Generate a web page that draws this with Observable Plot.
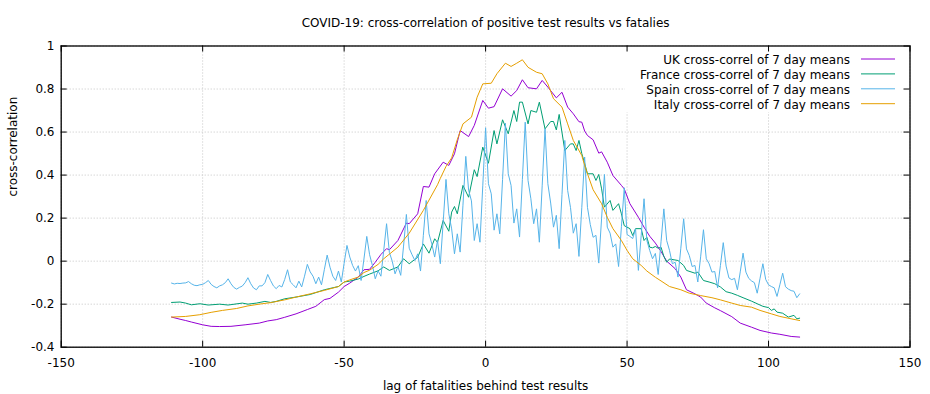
<!DOCTYPE html>
<html>
<head>
<meta charset="utf-8">
<script src="https://cdn.jsdelivr.net/npm/d3@7"></script>
<script src="https://cdn.jsdelivr.net/npm/@observablehq/plot@0.6"></script>
<style>
  html, body { margin: 0; padding: 0; background: #fff; }
  #chart { width: 930px; height: 394px; }
</style>
</head>
<body>
<div id="chart"></div>
<script>
const titleText = "COVID-19: cross-correlation of positive test results vs fatalies";
const xLabel = "lag of fatalities behind test results";
const yLabel = "cross-correlation";
const xTicks = [-150, -100, -50, 0, 50, 100, 150];
const yTicks = [-0.4, -0.2, 0, 0.2, 0.4, 0.6, 0.8, 1];
const seriesNames = ["UK cross-correl of 7 day means", "France cross-correl of 7 day means", "Spain cross-correl of 7 day means", "Italy cross-correl of 7 day means"];
const seriesColors = ["#9400d3", "#009e73", "#56b4e9", "#e69f00"];

const uk = [[-111,-0.260],[-108,-0.270],[-106,-0.276],[-104,-0.283],[-100,-0.296],[-97,-0.303],[-94,-0.304],[-90,-0.303],[-85,-0.296],[-80,-0.288],[-77,-0.278],[-74,-0.272],[-71,-0.261],[-67,-0.245],[-63,-0.225],[-60,-0.210],[-57,-0.179],[-55,-0.173],[-52,-0.144],[-50,-0.118],[-48,-0.102],[-45,-0.074],[-43,-0.040],[-41,-0.038],[-39,-0.005],[-37,0.031],[-35,0.058],[-34,0.053],[-31,0.096],[-28,0.177],[-27,0.174],[-24,0.220],[-22,0.347],[-20,0.344],[-18,0.406],[-15,0.460],[-13,0.445],[-11,0.499],[-9,0.607],[-6,0.579],[-4,0.631],[-1,0.747],[1,0.711],[3,0.718],[6,0.801],[9,0.767],[11,0.793],[13,0.843],[15,0.806],[18,0.801],[20,0.840],[22,0.809],[25,0.759],[27,0.785],[29,0.716],[31,0.685],[33,0.648],[34,0.646],[35,0.605],[36,0.584],[38,0.564],[40,0.502],[41,0.508],[43,0.460],[45,0.398],[48,0.352],[49,0.336],[51,0.267],[54,0.204],[56,0.158],[58,0.116],[60,0.084],[62,0.045],[64,0.000],[67,-0.035],[69,-0.074],[71,-0.133],[74,-0.152],[76,-0.167],[78,-0.195],[81,-0.217],[83,-0.230],[87,-0.258],[90,-0.288],[94,-0.307],[97,-0.322],[101,-0.334],[104,-0.340],[108,-0.350],[111,-0.353]];

const france = [[-111,-0.192],[-108,-0.190],[-106,-0.195],[-104,-0.203],[-101,-0.198],[-98,-0.204],[-94,-0.200],[-91,-0.204],[-86,-0.195],[-84,-0.200],[-81,-0.195],[-78,-0.187],[-76,-0.192],[-74,-0.187],[-71,-0.175],[-67,-0.167],[-62,-0.155],[-57,-0.133],[-52,-0.118],[-50,-0.097],[-48,-0.093],[-45,-0.083],[-43,-0.071],[-41,-0.060],[-38,-0.045],[-36,-0.027],[-34,-0.043],[-31,-0.027],[-29,0.011],[-27,-0.012],[-24,0.018],[-22,0.080],[-20,0.037],[-18,0.104],[-17,0.087],[-15,0.189],[-13,0.139],[-12,0.228],[-11,0.254],[-10,0.220],[-8,0.352],[-6,0.297],[-4,0.425],[-3,0.393],[-1,0.530],[1,0.455],[3,0.607],[4,0.545],[6,0.657],[8,0.592],[10,0.700],[11,0.649],[12,0.739],[13,0.739],[15,0.638],[16,0.700],[18,0.692],[19,0.739],[21,0.615],[23,0.649],[24,0.649],[25,0.610],[26,0.682],[28,0.514],[30,0.545],[31,0.545],[32,0.514],[33,0.561],[34,0.500],[35,0.455],[36,0.406],[38,0.406],[39,0.375],[40,0.403],[41,0.336],[42,0.251],[44,0.282],[45,0.236],[47,0.267],[48,0.220],[49,0.165],[51,0.151],[52,0.119],[53,0.151],[55,0.151],[56,0.096],[57,0.111],[58,0.065],[59,0.062],[60,0.068],[61,0.060],[62,0.065],[63,0.022],[64,-0.005],[65,0.010],[68,0.003],[70,-0.020],[71,-0.043],[74,-0.056],[75,-0.051],[77,-0.090],[79,-0.097],[81,-0.105],[83,-0.120],[85,-0.142],[87,-0.149],[89,-0.159],[91,-0.170],[94,-0.186],[96,-0.198],[98,-0.210],[100,-0.216],[101,-0.229],[102,-0.222],[103,-0.237],[105,-0.242],[107,-0.260],[109,-0.252],[110,-0.268],[111,-0.265]];

const spain = [[-111,-0.102],[-110,-0.106],[-109,-0.103],[-108,-0.104],[-107,-0.102],[-106,-0.101],[-105,-0.095],[-104,-0.105],[-103,-0.112],[-102,-0.114],[-101,-0.110],[-100,-0.108],[-99,-0.100],[-98,-0.090],[-97,-0.108],[-96,-0.118],[-95,-0.124],[-94,-0.115],[-93,-0.110],[-92,-0.100],[-91,-0.082],[-90,-0.105],[-89,-0.122],[-88,-0.130],[-87,-0.122],[-86,-0.116],[-85,-0.100],[-84,-0.077],[-83,-0.105],[-82,-0.125],[-81,-0.133],[-80,-0.115],[-79,-0.115],[-78,-0.100],[-77,-0.062],[-76,-0.090],[-75,-0.115],[-74,-0.128],[-73,-0.113],[-72,-0.120],[-71,-0.085],[-70,-0.040],[-69,-0.097],[-68,-0.110],[-67,-0.124],[-66,-0.093],[-65,-0.120],[-64,-0.070],[-63,-0.015],[-62,-0.050],[-61,-0.070],[-60,-0.105],[-59,-0.074],[-58,-0.110],[-57,-0.040],[-56,0.028],[-55,-0.028],[-54,-0.070],[-53,-0.090],[-52,-0.046],[-51,-0.097],[-50,-0.010],[-49,0.073],[-48,0.019],[-47,-0.020],[-46,-0.046],[-45,-0.021],[-44,-0.090],[-43,0.010],[-42,0.115],[-41,0.030],[-40,-0.020],[-39,-0.082],[-38,-0.045],[-37,-0.070],[-36,0.050],[-35,0.174],[-34,0.040],[-33,0.000],[-32,-0.059],[-31,-0.025],[-30,-0.066],[-29,0.070],[-28,0.217],[-27,0.060],[-26,0.030],[-25,0.003],[-24,0.034],[-23,-0.046],[-22,0.120],[-21,0.282],[-20,0.127],[-19,0.080],[-18,0.019],[-17,0.096],[-16,-0.012],[-15,0.180],[-14,0.380],[-13,0.220],[-12,0.150],[-11,0.034],[-10,0.127],[-9,0.042],[-8,0.260],[-7,0.487],[-6,0.330],[-5,0.280],[-4,0.096],[-3,0.174],[-2,0.088],[-1,0.350],[0,0.620],[1,0.360],[2,0.313],[3,0.144],[4,0.220],[5,0.127],[6,0.380],[7,0.641],[8,0.406],[9,0.352],[10,0.177],[11,0.243],[12,0.112],[13,0.380],[14,0.646],[15,0.375],[16,0.290],[17,0.174],[18,0.243],[19,0.088],[20,0.350],[21,0.615],[22,0.360],[23,0.270],[24,0.158],[25,0.213],[26,0.058],[27,0.310],[28,0.561],[29,0.329],[30,0.250],[31,0.130],[32,0.174],[33,0.022],[34,0.250],[35,0.484],[36,0.250],[37,0.170],[38,0.111],[39,0.120],[40,-0.009],[41,0.200],[42,0.403],[43,0.158],[44,0.130],[45,0.065],[46,0.080],[47,-0.025],[48,0.160],[49,0.341],[50,0.124],[51,0.115],[52,0.105],[53,0.150],[54,-0.043],[55,0.120],[56,0.290],[57,0.096],[58,0.050],[59,0.011],[60,0.036],[61,-0.062],[62,0.090],[63,0.243],[64,0.096],[65,0.050],[66,-0.012],[67,-0.005],[68,-0.074],[69,0.060],[70,0.197],[71,0.057],[72,0.026],[73,-0.025],[74,-0.020],[75,-0.097],[76,0.020],[77,0.146],[78,0.011],[79,-0.012],[80,-0.051],[81,-0.048],[82,-0.124],[83,-0.020],[84,0.086],[85,-0.023],[86,-0.078],[87,-0.086],[88,-0.080],[89,-0.133],[90,-0.050],[91,0.037],[92,-0.051],[93,-0.080],[94,-0.092],[95,-0.100],[96,-0.149],[97,-0.080],[98,-0.012],[99,-0.085],[100,-0.110],[101,-0.118],[102,-0.124],[103,-0.164],[104,-0.110],[105,-0.056],[106,-0.119],[107,-0.130],[108,-0.137],[109,-0.140],[110,-0.170],[111,-0.152]];

const italy = [[-111,-0.260],[-106,-0.257],[-101,-0.249],[-97,-0.238],[-93,-0.229],[-88,-0.220],[-84,-0.208],[-79,-0.198],[-76,-0.193],[-71,-0.180],[-67,-0.167],[-62,-0.152],[-57,-0.136],[-52,-0.118],[-50,-0.097],[-48,-0.087],[-45,-0.074],[-43,-0.053],[-41,-0.042],[-38,-0.015],[-36,0.011],[-31,0.065],[-27,0.130],[-22,0.236],[-17,0.355],[-16,0.385],[-14,0.440],[-12,0.480],[-10,0.565],[-8,0.638],[-5,0.669],[-3,0.762],[-1,0.824],[2,0.827],[4,0.871],[7,0.920],[9,0.905],[11,0.920],[13,0.936],[15,0.901],[18,0.878],[20,0.871],[22,0.824],[24,0.755],[27,0.716],[29,0.638],[31,0.561],[34,0.491],[35,0.445],[36,0.406],[38,0.332],[41,0.267],[43,0.204],[45,0.151],[48,0.096],[50,0.050],[52,0.011],[55,-0.020],[57,-0.046],[60,-0.075],[62,-0.092],[65,-0.118],[69,-0.133],[72,-0.149],[76,-0.160],[80,-0.170],[83,-0.180],[87,-0.195],[90,-0.206],[94,-0.214],[97,-0.229],[101,-0.245],[104,-0.257],[108,-0.268],[111,-0.276]];

const seriesData = [uk, france, spain, italy];

const W = 930, H = 394;
const mL = 60.7, mR = 20.5, mT = 45.5, mB = 47.3;
const FW = W - mL - mR, FH = H - mT - mB;
const tickLen = 6;
const gridStyle = {stroke: "#c4c4c4", strokeWidth: 1, strokeDasharray: "1,2"};

function legendMark(index, scales, values, dims) {
  const g = d3.create("svg:g");
  const right = dims.width - dims.marginRight;
  g.append("rect")
    .attr("x", 625).attr("y", dims.marginTop + 0.8)
    .attr("width", right - 625 - 0.8).attr("height", 66)
    .attr("fill", "#fff");
  seriesNames.forEach((name, i) => {
    const base = 64.3 + i * 14.9;
    g.append("text")
      .attr("x", 850).attr("y", base)
      .attr("text-anchor", "end")
      .attr("font-family", "DejaVu Sans, sans-serif")
      .attr("font-size", 12)
      .attr("fill", "#000")
      .text(name);
    g.append("line")
      .attr("x1", 861).attr("x2", 895)
      .attr("y1", base - 5.3).attr("y2", base - 5.3)
      .attr("stroke", seriesColors[i]).attr("stroke-width", 1);
  });
  return g.node();
}

const fmtY = d => String(Math.round(d * 10) / 10);

const chart = Plot.plot({
  width: W, height: H,
  marginLeft: mL, marginRight: mR, marginTop: mT, marginBottom: mB,
  style: {fontFamily: "'DejaVu Sans', sans-serif", fontSize: "12px", color: "#000", background: "#fff", overflow: "visible"},
  x: {domain: [-150, 150], label: null},
  y: {domain: [-0.4, 1], label: null},
  marks: [
    Plot.ruleX(xTicks, {x: d => d, ...gridStyle}),
    Plot.ruleY(yTicks, {y: d => d, ...gridStyle}),
    ...seriesData.map((s, i) => Plot.line(s, {x: d => d[0], y: d => d[1], stroke: seriesColors[i], strokeWidth: 1})),
    legendMark,
    Plot.frame({stroke: "#000", strokeWidth: 1.3}),
    Plot.tickX(xTicks, {x: d => d, insetTop: FH - tickLen, stroke: "#000"}),
    Plot.tickX(xTicks, {x: d => d, insetBottom: FH - tickLen, stroke: "#000"}),
    Plot.tickY(yTicks, {y: d => d, insetRight: FW - tickLen, stroke: "#000"}),
    Plot.tickY(yTicks, {y: d => d, insetLeft: FW - tickLen, stroke: "#000"}),
    Plot.axisX(xTicks, {tickSize: 0, tickPadding: 10.8, tickFormat: d => String(d), label: null, fontSize: 12}),
    Plot.axisY(yTicks, {tickSize: 0, tickPadding: 6.7, tickFormat: fmtY, label: null, fontSize: 12}),
    Plot.text([xLabel], {text: d => d, frameAnchor: "bottom", dy: 38.5, lineAnchor: "middle", fontSize: 12}),
    Plot.text([yLabel], {text: d => d, frameAnchor: "left", dx: -47.8, rotate: -90, lineAnchor: "middle", fontSize: 12}),
    Plot.text([titleText], {text: d => d, frameAnchor: "top", dy: -23.3, lineAnchor: "middle", fontSize: 12})
  ]
});

document.getElementById("chart").appendChild(chart);
</script>
</body>
</html>
